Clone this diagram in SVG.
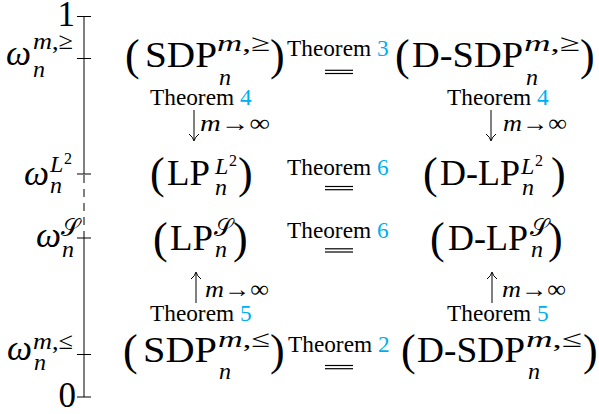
<svg xmlns="http://www.w3.org/2000/svg" width="599" height="414" viewBox="0 0 599 414">
<style>
text{font-family:'Liberation Serif','DejaVu Serif',serif;fill:#000}
.m{font-size:35px}
.p{font-size:44px}
.s{font-size:24px}
.ss{font-size:16px}
.i{font-style:italic}
.t{font-size:23.3px}
.c{fill:#00AEEF}
.ax{stroke:#000;stroke-width:1;fill:none}
.eq{stroke:#000;stroke-width:1.2}
.ar{stroke:#000;stroke-width:1;fill:none}
</style>
<defs>
<path id="hdown" d="M-5,-6 Q-1,-3 0,1 Q1,-3 5,-6" class="ar"/>
<path id="hup" d="M-5,6 Q-1,3 0,-1 Q1,3 5,6" class="ar"/>
</defs>
<g id="axis">
<line class="ax" x1="84" y1="16.5" x2="84" y2="174"/>
<line class="ax" x1="84" y1="175" x2="84" y2="238" stroke-dasharray="8 6"/>
<line class="ax" x1="84" y1="238" x2="84" y2="397"/>
<line class="ax" x1="77" y1="16.5" x2="91" y2="16.5"/>
<line class="ax" x1="77" y1="58.5" x2="91" y2="58.5"/>
<line class="ax" x1="77" y1="174" x2="91" y2="174"/>
<line class="ax" x1="77" y1="238" x2="91" y2="238"/>
<line class="ax" x1="77" y1="354.5" x2="91" y2="354.5"/>
<line class="ax" x1="77" y1="397" x2="91" y2="397" stroke-width="1.5"/>
<text class="m" x="75" y="26" text-anchor="end">1</text>
<text class="m" x="76" y="407" text-anchor="end">0</text>
<text class="m i" x="6" y="65" textLength="25" lengthAdjust="spacingAndGlyphs">ω</text>
<text class="s" x="33" y="49" textLength="40" lengthAdjust="spacingAndGlyphs"><tspan class="i">m</tspan>,≥</text>
<text class="s i" x="33" y="77">n</text>
<text class="m i" x="24" y="185" textLength="25" lengthAdjust="spacingAndGlyphs">ω</text>
<text class="s i" x="50" y="172">L</text>
<text class="ss" x="64" y="164">2</text>
<text class="s i" x="50" y="193">n</text>
<text class="m i" x="36" y="247" textLength="25" lengthAdjust="spacingAndGlyphs">ω</text>
<text class="s" x="61" y="236">𝒮</text>
<text class="s i" x="62" y="257">n</text>
<text class="m i" x="7" y="360" textLength="25" lengthAdjust="spacingAndGlyphs">ω</text>
<text class="s" x="33" y="349" textLength="40" lengthAdjust="spacingAndGlyphs"><tspan class="i">m</tspan>,≤</text>
<text class="s i" x="34" y="370">n</text>
</g>
<g id="sdp-ge">
<text class="p" x="125" y="70">(</text>
<text class="m" x="145" y="67" textLength="72" lengthAdjust="spacingAndGlyphs">SDP</text>
<text class="s" x="217" y="51" textLength="53" lengthAdjust="spacingAndGlyphs"><tspan class="i">m</tspan>,≥</text>
<text class="s i" x="219" y="85">n</text>
<text class="p" x="270" y="70">)</text>
</g>
<g id="dsdp-ge">
<text class="p" x="395" y="70">(</text>
<text class="m" x="412" y="67" textLength="111" lengthAdjust="spacingAndGlyphs">D-SDP</text>
<text class="s" x="524" y="51" textLength="56" lengthAdjust="spacingAndGlyphs"><tspan class="i">m</tspan>,≥</text>
<text class="s i" x="526" y="85">n</text>
<text class="p" x="580" y="70">)</text>
</g>
<g id="lp-l2">
<text class="p" x="150" y="188">(</text>
<text class="m" x="167" y="185" textLength="43" lengthAdjust="spacingAndGlyphs">LP</text>
<text class="s i" x="215" y="174">L</text>
<text class="ss" x="229" y="166">2</text>
<text class="s i" x="215" y="195">n</text>
<text class="p" x="238" y="188">)</text>
</g>
<g id="dlp-l2">
<text class="p" x="423" y="188">(</text>
<text class="m" x="440" y="185" textLength="80" lengthAdjust="spacingAndGlyphs">D-LP</text>
<text class="s i" x="521" y="174">L</text>
<text class="ss" x="535" y="166">2</text>
<text class="s i" x="522" y="195">n</text>
<text class="p" x="551" y="188">)</text>
</g>
<g id="lp-s">
<text class="p" x="153" y="253">(</text>
<text class="m" x="170" y="250" textLength="43" lengthAdjust="spacingAndGlyphs">LP</text>
<text class="s" x="214" y="236">𝒮</text>
<text class="s i" x="215" y="257">n</text>
<text class="p" x="233" y="253">)</text>
</g>
<g id="dlp-s">
<text class="p" x="430" y="253">(</text>
<text class="m" x="448" y="250" textLength="80" lengthAdjust="spacingAndGlyphs">D-LP</text>
<text class="s" x="530" y="236">𝒮</text>
<text class="s i" x="531" y="257">n</text>
<text class="p" x="548" y="253">)</text>
</g>
<g id="sdp-le">
<text class="p" x="123" y="365">(</text>
<text class="m" x="143" y="362" textLength="74" lengthAdjust="spacingAndGlyphs">SDP</text>
<text class="s" x="218" y="347" textLength="52" lengthAdjust="spacingAndGlyphs"><tspan class="i">m</tspan>,≤</text>
<text class="s i" x="219" y="379">n</text>
<text class="p" x="270" y="365">)</text>
</g>
<g id="dsdp-le">
<text class="p" x="401" y="365">(</text>
<text class="m" x="417" y="362" textLength="108" lengthAdjust="spacingAndGlyphs">D-SDP</text>
<text class="s" x="526" y="347" textLength="56" lengthAdjust="spacingAndGlyphs"><tspan class="i">m</tspan>,≤</text>
<text class="s i" x="528" y="379">n</text>
<text class="p" x="583" y="365">)</text>
</g>
<g id="connectors">
<text class="t" x="287" y="56">Theorem <tspan class="c">3</tspan></text>
<line class="eq" x1="325" y1="70.3" x2="353" y2="70.3"/>
<line class="eq" x1="325" y1="73.5" x2="353" y2="73.5"/>
<text class="t" x="287" y="175">Theorem <tspan class="c">6</tspan></text>
<line class="eq" x1="325" y1="186.5" x2="353" y2="186.5"/>
<line class="eq" x1="325" y1="189.7" x2="353" y2="189.7"/>
<text class="t" x="287" y="238">Theorem <tspan class="c">6</tspan></text>
<line class="eq" x1="325" y1="248.8" x2="353" y2="248.8"/>
<line class="eq" x1="325" y1="252" x2="353" y2="252"/>
<text class="t" x="288" y="352">Theorem <tspan class="c">2</tspan></text>
<line class="eq" x1="325" y1="365.5" x2="353" y2="365.5"/>
<line class="eq" x1="325" y1="368.7" x2="353" y2="368.7"/>
<text class="t" x="150" y="105">Theorem <tspan class="c">4</tspan></text>
<line class="ar" x1="194" y1="110" x2="194" y2="140"/>
<use href="#hdown" x="194" y="140"/>
<text class="s" x="200" y="131" textLength="70" lengthAdjust="spacingAndGlyphs"><tspan class="i">m</tspan>→∞</text>
<text class="t" x="447" y="105">Theorem <tspan class="c">4</tspan></text>
<line class="ar" x1="491" y1="110" x2="491" y2="140"/>
<use href="#hdown" x="491" y="140"/>
<text class="s" x="503" y="131" textLength="64" lengthAdjust="spacingAndGlyphs"><tspan class="i">m</tspan>→∞</text>
<text class="t" x="150" y="321">Theorem <tspan class="c">5</tspan></text>
<line class="ar" x1="196" y1="273" x2="196" y2="303"/>
<use href="#hup" x="196" y="273"/>
<text class="s" x="205" y="297" textLength="64" lengthAdjust="spacingAndGlyphs"><tspan class="i">m</tspan>→∞</text>
<text class="t" x="447" y="321">Theorem <tspan class="c">5</tspan></text>
<line class="ar" x1="492" y1="273" x2="492" y2="303"/>
<use href="#hup" x="492" y="273"/>
<text class="s" x="502" y="297" textLength="64" lengthAdjust="spacingAndGlyphs"><tspan class="i">m</tspan>→∞</text>
</g>
</svg>
